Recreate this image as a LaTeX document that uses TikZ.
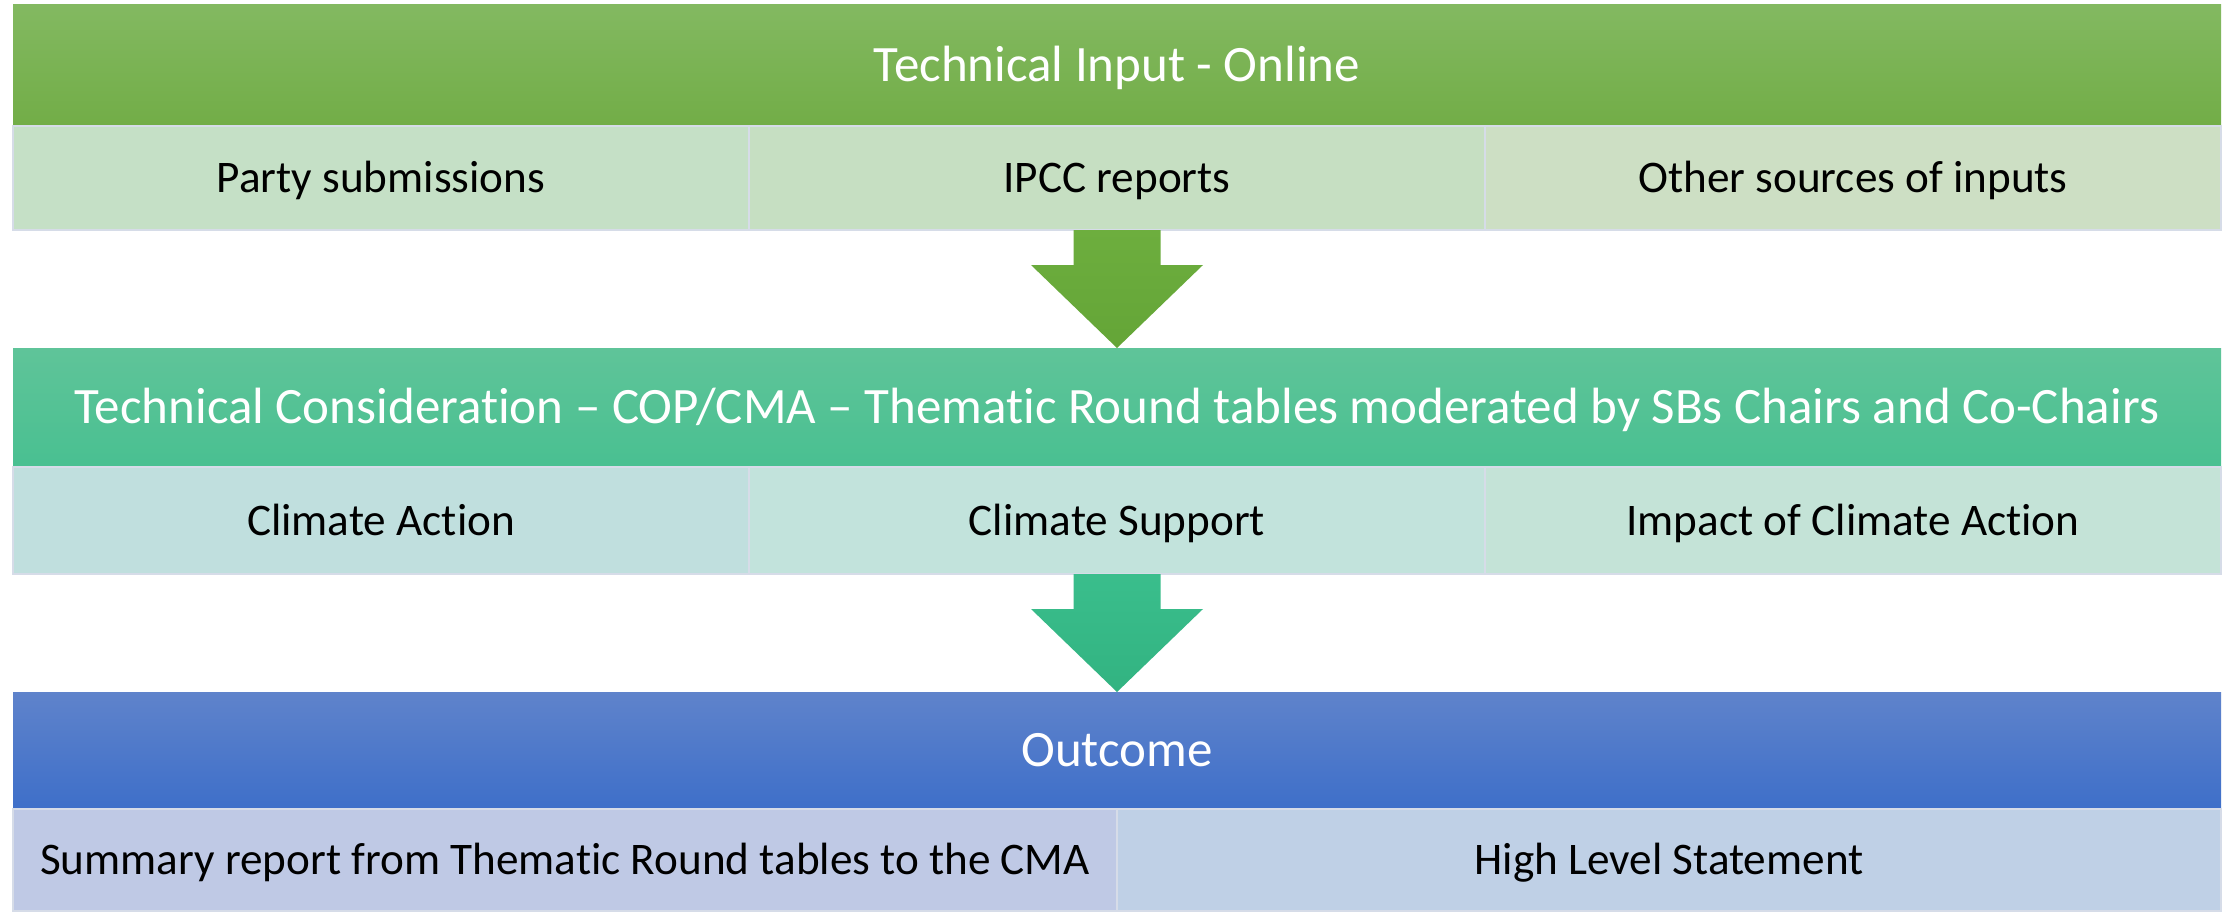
\documentclass[tikz,border=0pt]{standalone}
\usepackage{fontspec}
\setmainfont{Carlito}[Ligatures=NoCommon]
\usetikzlibrary{positioning,calc}
\definecolor{inputtop}{RGB}{131,185,97}
\definecolor{inputbot}{RGB}{114,173,71}
\definecolor{considertop}{RGB}{95,196,153}
\definecolor{considerbot}{RGB}{73,192,145}
\definecolor{outcometop}{RGB}{95,131,203}
\definecolor{outcomebot}{RGB}{62,111,201}
\definecolor{partyfill}{RGB}{197,224,198}
\definecolor{ipccfill}{RGB}{198,223,194}
\definecolor{otherfill}{RGB}{205,223,196}
\definecolor{actionfill}{RGB}{192,223,222}
\definecolor{supportfill}{RGB}{194,227,220}
\definecolor{impactfill}{RGB}{196,227,215}
\definecolor{summaryfill}{RGB}{191,201,229}
\definecolor{statementfill}{RGB}{191,208,230}
\definecolor{cellline}{RGB}{214,220,232}
\definecolor{arrowgreentop}{RGB}{109,174,62}
\definecolor{arrowgreenbot}{RGB}{100,165,55}
\definecolor{arrowtealtop}{RGB}{58,190,140}
\definecolor{arrowtealbot}{RGB}{50,179,129}
\newcommand{\blockarrow}[4]{%
	\path[top color=#3,bottom color=#4] ($(#1.south)+(-21.75pt,0)$) -- ($(#1.south)+(21.75pt,0)$) -- ++(0,-17.5pt) -- ++(21.25pt,0) -- (#2.north) -- ($(#1.south)+(-43pt,-17.5pt)$) -- ++(21.25pt,0) -- cycle;}
\tikzset{
	bar/.style={minimum width=1104pt,inner sep=0pt,outer sep=0pt,text=white,text height=16.4pt,text depth=0pt,font=\fontsize{25.5}{30}\selectfont},
	cell/.style={minimum width=368pt,inner sep=0pt,outer sep=0pt,draw=cellline,line width=0.6pt,text height=14.6pt,text depth=0pt,font=\fontsize{22.6}{27}\selectfont},
	widecell/.style={cell,minimum width=552pt}
}
\begin{document}
\begin{tikzpicture}
	\useasboundingbox[fill=white] (0,0) rectangle (1116.5pt,-455.5pt);
	\node[bar,minimum height=61pt,top color=inputtop,bottom color=inputbot] (input) at (558.5pt,-32.5pt) {Technical Input - Online};
	\node[cell,minimum height=52pt,fill=partyfill,below right=0pt of input.south west] (party) {Party submissions};
	\node[cell,minimum height=52pt,fill=ipccfill,right=0pt of party] (ipcc) {IPCC reports};
	\node[cell,minimum height=52pt,fill=otherfill,right=0pt of ipcc] (other) {Other sources of inputs};
	\node[bar,minimum height=59.5pt,top color=considertop,bottom color=considerbot,below=59pt of ipcc] (consider) {Technical Consideration – COP/CMA – Thematic Round tables moderated by SBs Chairs and Co-Chairs};
	\node[cell,minimum height=53.5pt,fill=actionfill,below right=0pt of consider.south west] (action) {Climate Action};
	\node[cell,minimum height=53.5pt,fill=supportfill,right=0pt of action] (support) {Climate Support};
	\node[cell,minimum height=53.5pt,fill=impactfill,right=0pt of support] (impact) {Impact of Climate Action};
	\node[bar,minimum height=58.5pt,top color=outcometop,bottom color=outcomebot,below=59pt of support] (outcome) {Outcome};
	\node[widecell,minimum height=51pt,fill=summaryfill,below right=0pt of outcome.south west] (summary) {Summary report from Thematic Round tables to the CMA};
	\node[widecell,minimum height=51pt,fill=statementfill,right=0pt of summary] (statement) {High Level Statement};
	\blockarrow{ipcc}{consider}{arrowgreentop}{arrowgreenbot}
	\blockarrow{support}{outcome}{arrowtealtop}{arrowtealbot}
\end{tikzpicture}
\end{document}
